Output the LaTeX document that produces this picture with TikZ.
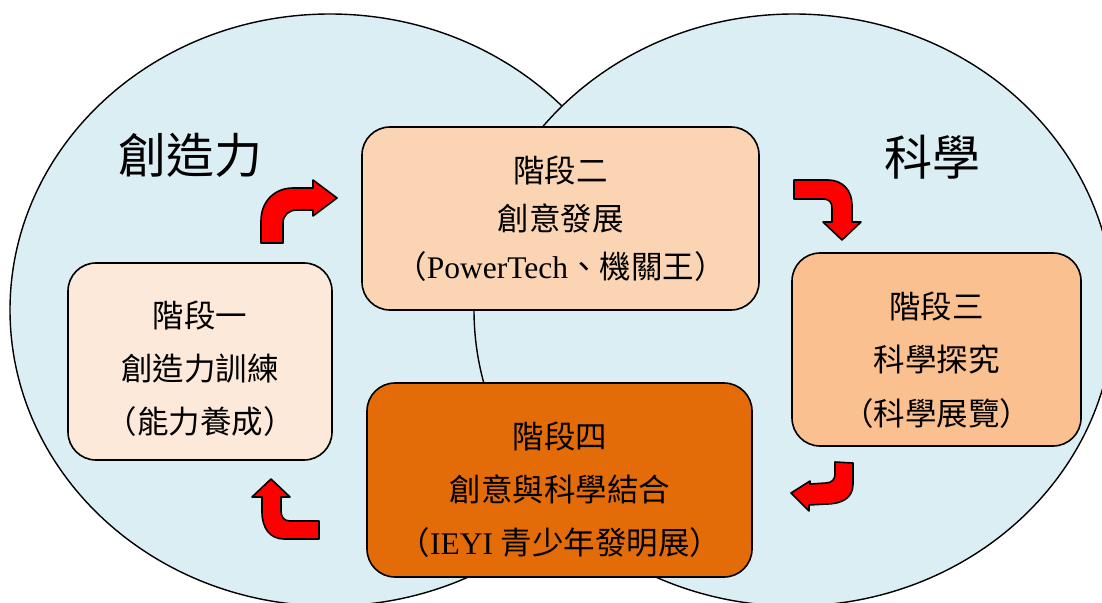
\documentclass[tikz,border=0pt]{standalone}
\usepackage{fontspec}
\setmainfont{Liberation Serif}
\newfontfamily\cjkfont{Noto Sans CJK TC}
\definecolor{ellfill}{HTML}{DAEEF3}
\definecolor{boxa}{HTML}{FDE9D9}
\definecolor{boxb}{HTML}{FBD4B4}
\definecolor{boxc}{HTML}{FAC090}
\definecolor{boxd}{HTML}{E36C09}
\begin{document}
\begin{tikzpicture}[x=1pt,y=-1pt,
  ell/.style={draw=black,line width=1.4pt,fill=ellfill},
  stagebox/.style={draw=black,line width=1.6pt,rounded corners=28pt,inner sep=0pt},
  stagetxt/.style={align=center,inner sep=0pt,text=black},
  bigtxt/.style={inner sep=0pt,font=\cjkfont\fontsize{48}{52}\selectfont},
  barrow/.style={draw=black,line width=1.6pt,fill=red,line join=round}]
\useasboundingbox (0,0) rectangle (1102,602);
\begin{scope}
\clip (0,0) rectangle (1102,602);
\draw[ell] (330,310) ellipse [x radius=320pt, y radius=296pt];
\draw[ell] (794,310) ellipse [x radius=320pt, y radius=296pt];
\end{scope}

% titles
\node[bigtxt] (tleft) at (190,155) {創造力};
\node[bigtxt] (tright) at (932,157) {科學};

% boxes
\node[stagebox,fill=boxa,minimum width=264pt,minimum height=197pt] (s1) at (200,361.5) {};
\node[stagebox,fill=boxb,minimum width=397pt,minimum height=183pt] (s2) at (560.5,218.5) {};
\node[stagebox,fill=boxc,minimum width=289pt,minimum height=193pt] (s3) at (936.5,349.5) {};
\node[stagebox,fill=boxd,minimum width=385pt,minimum height=194pt] (s4) at (559.5,480) {};

\node[stagetxt,font=\fontsize{31.5}{53}\selectfont] (t1) at (200,369)
  {{\cjkfont 階段一}\\{\cjkfont 創造力訓練}\\{\cjkfont （能力養成）}};
\node[stagetxt,font=\fontsize{31.5}{48}\selectfont] (t2) at (560.5,219)
  {{\cjkfont 階段二}\\{\cjkfont 創意發展}\\{\cjkfont （}PowerTech{\cjkfont 、機關王）}};
\node[stagetxt,font=\fontsize{31.5}{53.5}\selectfont] (t3) at (936.5,360)
  {{\cjkfont 階段三}\\{\cjkfont 科學探究}\\{\cjkfont （科學展覽）}};
\node[stagetxt,font=\fontsize{31.5}{53}\selectfont] (t4) at (560,490)
  {{\cjkfont 階段四}\\{\cjkfont 創意與科學結合}\\{\cjkfont （}IEYI {\cjkfont 青少年發明展）}};

% bent block arrows
\draw[barrow] (261,243) -- (261,221) .. controls (261,201) and (275,188) .. (293,188)
  -- (313,188) -- (313,180) -- (337,198) -- (313,216) -- (313,210) -- (297,210)
  .. controls (289,210) and (283,215) .. (283,223) -- (283,243) -- cycle;
\draw[barrow] (794,180) -- (828,180) .. controls (842,180) and (852,190) .. (852,205)
  -- (852,222) -- (861,222) -- (842,240) -- (823,222) -- (832,222) -- (832,208)
  .. controls (832,202) and (829,199) .. (823,199) -- (794,199) -- cycle;
\draw[barrow] (835,462) -- (853,463) -- (853,484) .. controls (853,498) and (842,504) .. (826,504)
  -- (809,505) -- (809,511) -- (791,493) -- (810,481) -- (810,484) -- (826,483)
  .. controls (832,483) and (835,479) .. (835,474) -- cycle;
\draw[barrow] (319,521) -- (290,521) .. controls (284,521) and (281,517) .. (281,511)
  -- (281,497) -- (290,497) -- (271,479) -- (252,497) -- (262,497) -- (262,512)
  .. controls (262,528) and (270,539) .. (284,539) -- (319,539) -- cycle;
\end{tikzpicture}
\end{document}
